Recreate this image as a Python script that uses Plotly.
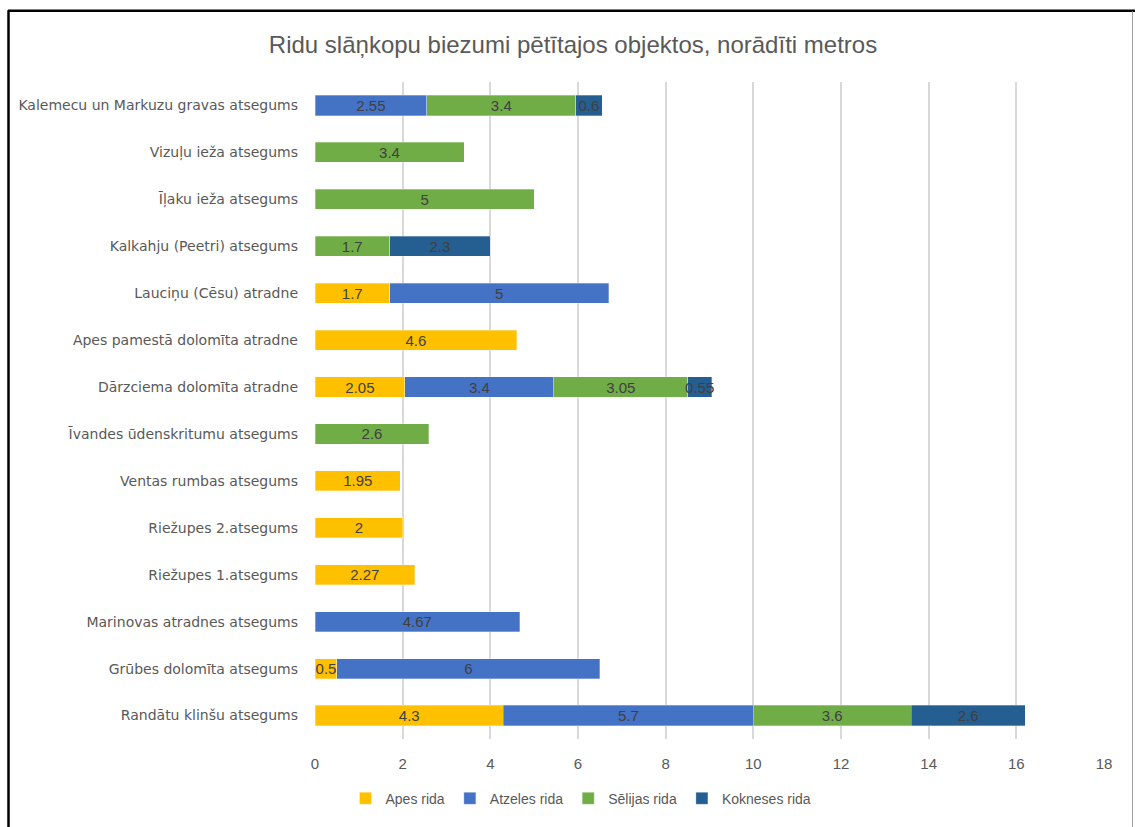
import plotly.graph_objects as go

# Objects (top to bottom as shown)
objects = [
    "Kalemecu un Markuzu gravas atsegums",
    "Vizuļu ieža atsegums",
    "Īļaku ieža atsegums",
    "Kalkahju (Peetri) atsegums",
    "Lauciņu (Cēsu) atradne",
    "Apes pamestā dolomīta atradne",
    "Dārzciema dolomīta atradne",
    "Īvandes ūdenskritumu atsegums",
    "Ventas rumbas atsegums",
    "Riežupes 2.atsegums",
    "Riežupes 1.atsegums",
    "Marinovas atradnes atsegums",
    "Grūbes dolomīta atsegums",
    "Randātu klinšu atsegums",
]

apes = [None, None, None, None, 1.7, 4.6, 2.05, None, 1.95, 2, 2.27, None, 0.5, 4.3]
atzeles = [2.55, None, None, None, 5, None, 3.4, None, None, None, None, 4.67, 6, 5.7]
selijas = [3.4, 3.4, 5, 1.7, None, None, 3.05, 2.6, None, None, None, None, None, 3.6]
kokneses = [0.6, None, None, 2.3, None, None, 0.55, None, None, None, None, None, None, 2.6]

series = [
    ("Apes rida", apes, "#FFC000"),
    ("Atzeles rida", atzeles, "#4472C4"),
    ("Sēlijas rida", selijas, "#70AD47"),
    ("Kokneses rida", kokneses, "#255E91"),
]

NARROW = "Liberation Sans Narrow, Arial Narrow, Liberation Sans, sans-serif"

fig = go.Figure()
for name, vals, color in series:
    fig.add_trace(go.Bar(
        name=name,
        y=objects,
        x=vals,
        orientation="h",
        marker=dict(color=color, line=dict(color="rgba(255,255,255,0.6)", width=0.5)),
        text=[("" if v is None else f"{v:g}") for v in vals],
        textposition="inside",
        insidetextanchor="middle",
        textangle=0,
        constraintext="none",
        textfont=dict(family=NARROW, size=15, color="#404040"),
        cliponaxis=False,
    ))

# Plot-area geometry in pixels, used for the outer frame lines
L, R, T, B = 315, 1104, 82, 742
W, H = 1135, 827


def px_x(p):
    return (p - L) / (R - L)


def px_y(p):
    return (B - p) / (B - T)


frame = [
    dict(type="line", xref="paper", yref="paper", x0=px_x(8.5), x1=px_x(8.5),
         y0=px_y(10), y1=px_y(840), line=dict(color="black", width=2.5)),
    dict(type="line", xref="paper", yref="paper", x0=px_x(8), x1=px_x(1140),
         y0=px_y(10.5), y1=px_y(10.5), line=dict(color="black", width=2.5)),
    dict(type="line", xref="paper", yref="paper", x0=px_x(1132.5), x1=px_x(1132.5),
         y0=px_y(11), y1=px_y(840), line=dict(color="#A0A0A0", width=1)),
]

fig.update_layout(
    width=W, height=H,
    barmode="stack",
    bargap=0.57,
    paper_bgcolor="white",
    plot_bgcolor="white",
    margin=dict(l=L, r=W - R, t=T, b=H - B, pad=0),
    title=dict(
        text="Ridu slāņkopu biezumi pētītajos objektos, norādīti metros",
        x=573 / W, xanchor="center", y=1 - 45 / H, yanchor="middle",
        font=dict(family=NARROW, size=24, color="#595959"),
    ),
    xaxis=dict(
        range=[0, 18], dtick=2, tick0=0,
        showgrid=True, gridcolor="#D9D9D9", gridwidth=1.5,
        zeroline=False, showline=False, ticks="",
        ticklabelstandoff=14,
        tickfont=dict(family=NARROW, size=15, color="#595959"),
    ),
    yaxis=dict(
        autorange="reversed",
        categoryorder="array", categoryarray=objects,
        showgrid=False, zeroline=False, showline=False, ticks="",
        ticklabelstandoff=16,
        tickfont=dict(family="DejaVu Sans, sans-serif", size=14, color="#595959"),
    ),
    legend=dict(
        orientation="h", x=(581 - L) / (R - L), xanchor="center",
        y=px_y(802), yanchor="middle",
        font=dict(family=NARROW, size=14, color="#595959"),
        itemwidth=30, traceorder="normal",
    ),
    shapes=frame,
    uniformtext=dict(mode=False),
)

fig.write_html("out.html")
